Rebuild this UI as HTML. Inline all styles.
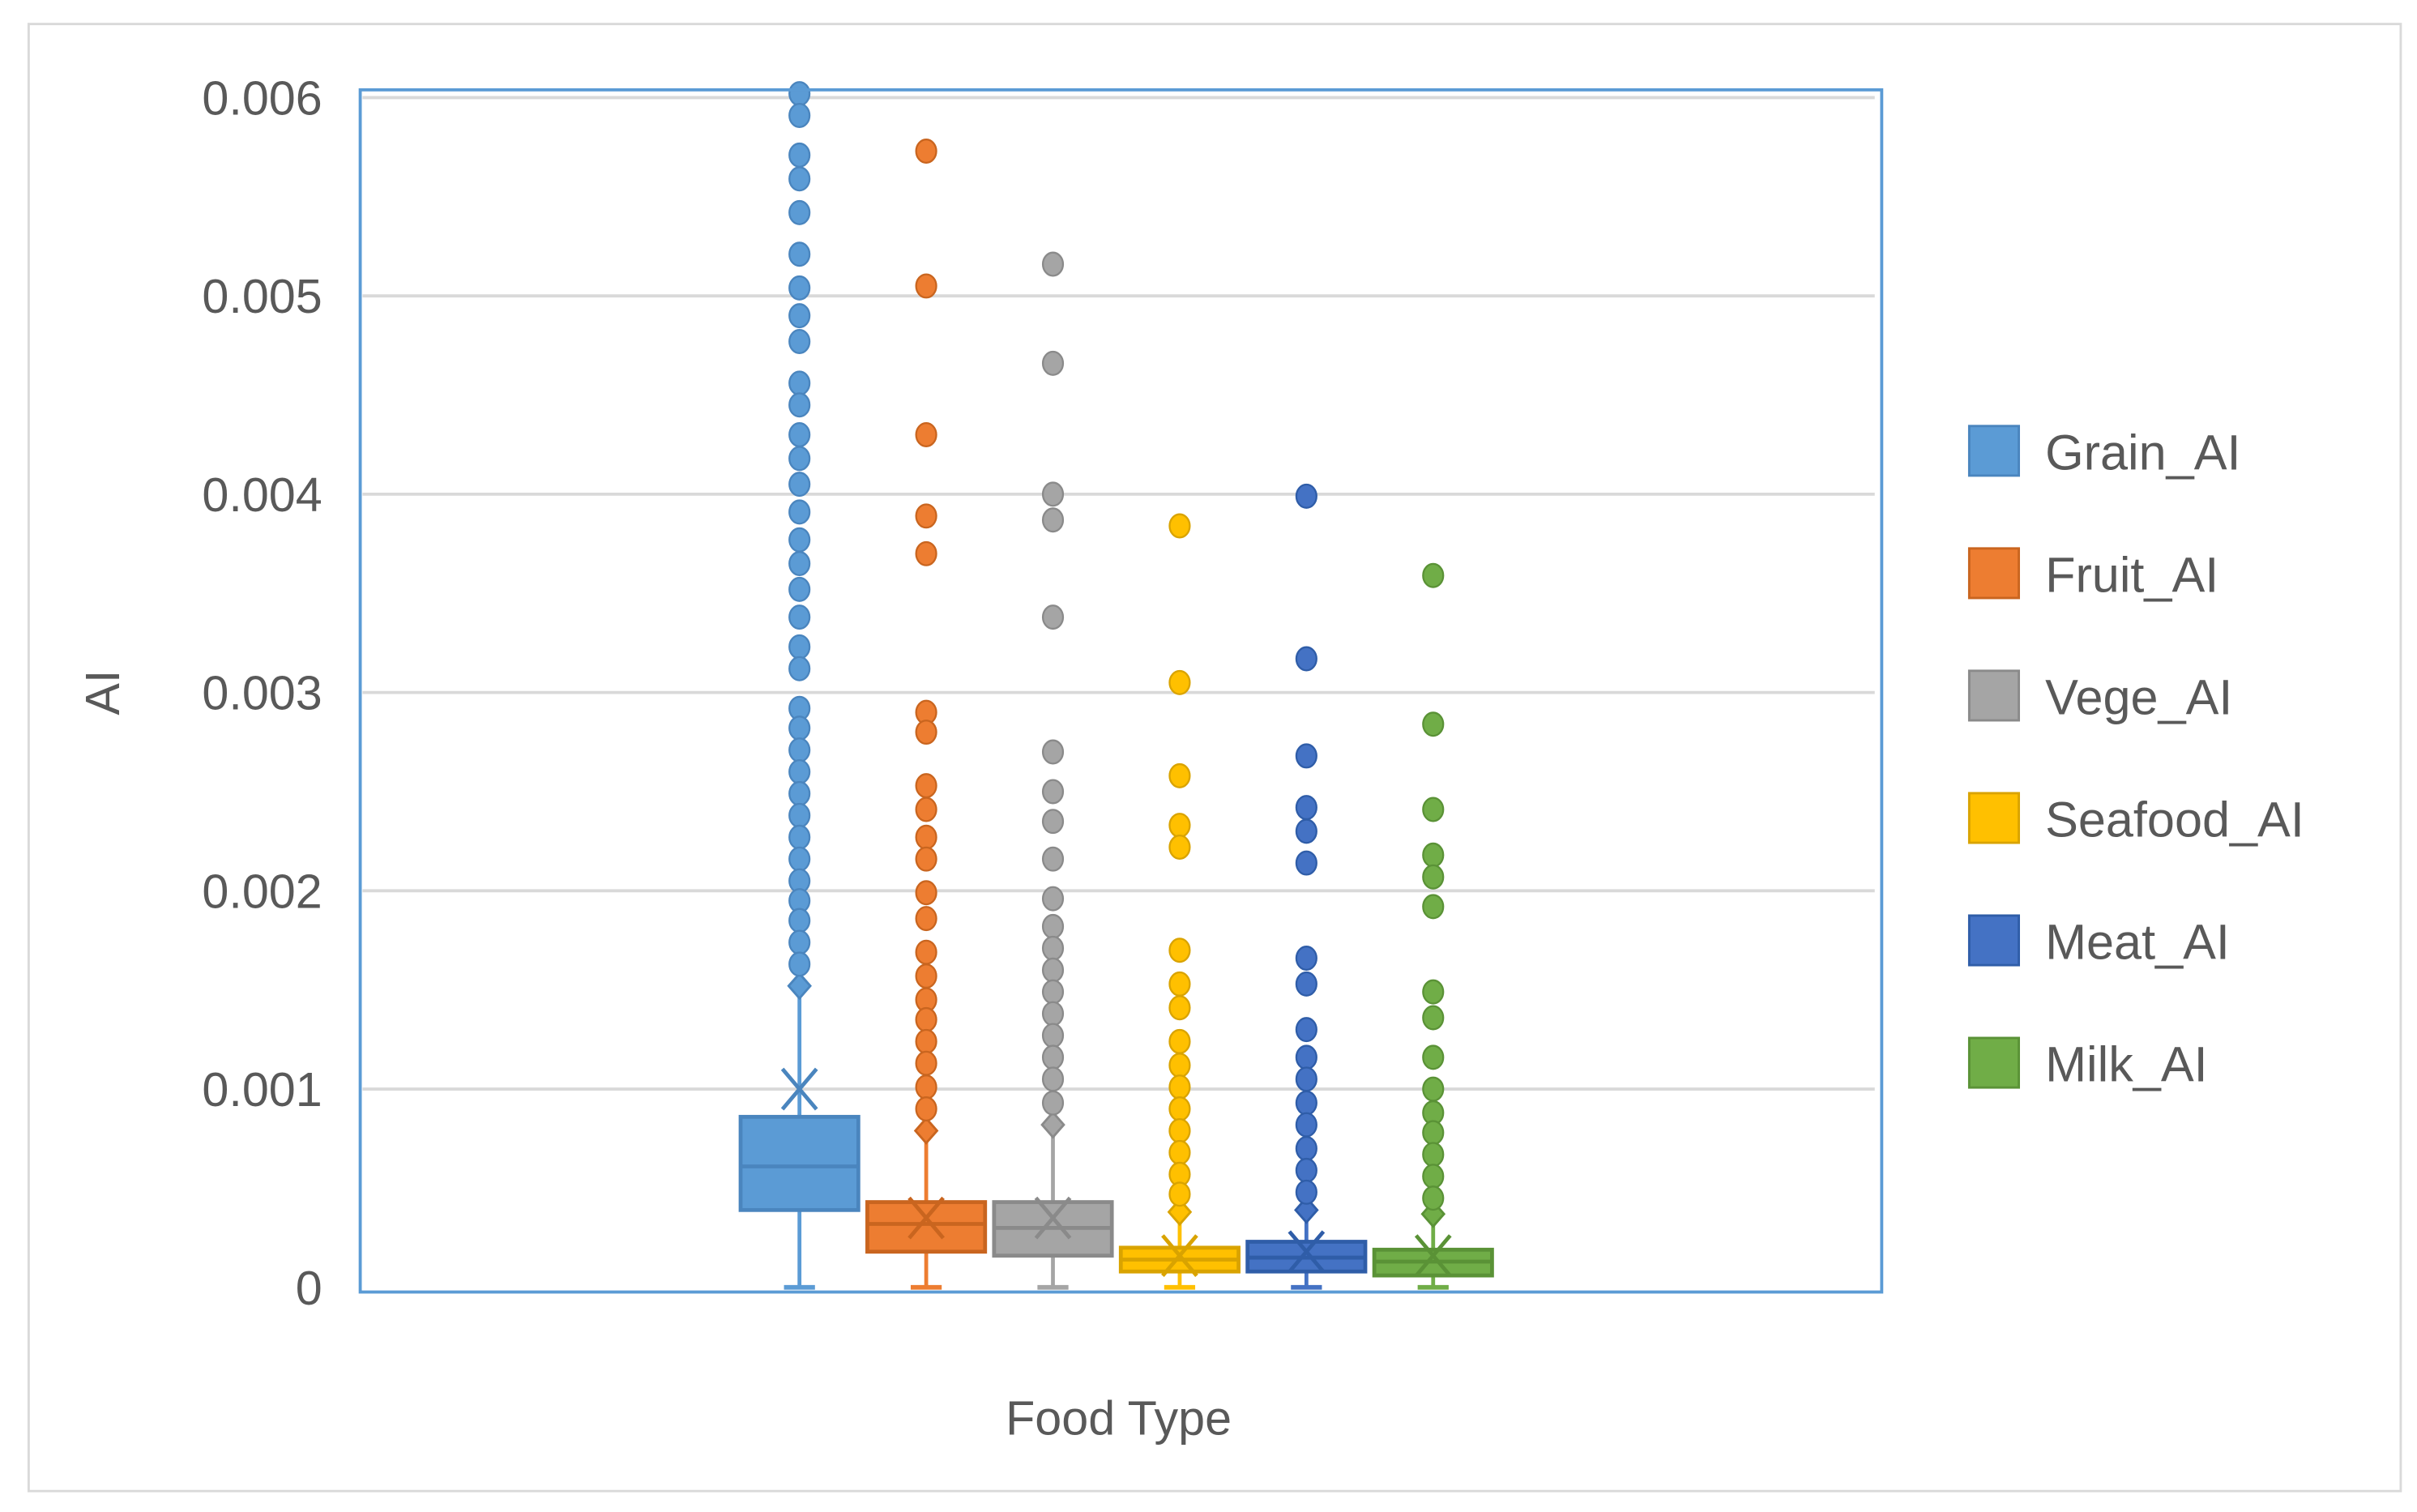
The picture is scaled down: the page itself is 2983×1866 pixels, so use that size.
<!DOCTYPE html>
<html><head><meta charset="utf-8"><style>
html,body{margin:0;padding:0;background:#fff;}
svg{display:block;font-family:"Liberation Sans",sans-serif;}
</style></head><body>
<svg id="chart" width="2983" height="1866" viewBox="0 0 1560 976" preserveAspectRatio="none" xmlns="http://www.w3.org/2000/svg">
<rect x="18.5" y="15.5" width="1531" height="947" fill="#fff" stroke="#d9d9d9" stroke-width="1.5"/>
<g id="grid"></g>
<g id="series"></g>
<rect x="232.5" y="58" width="982" height="776" fill="none" stroke="#5B9BD5" stroke-width="2"/>
<g id="yticks"></g>
<text x="0" y="0" transform="translate(77,447) rotate(-90)" text-anchor="middle" font-size="31" fill="#595959">AI</text>
<text x="722" y="926" text-anchor="middle" font-size="31" fill="#595959">Food Type</text>
<g id="legend"></g>
</svg>
<script>
const categories = ["Grain_AI","Fruit_AI","Vege_AI","Seafood_AI","Meat_AI","Milk_AI"];
const colors = ["#5B9BD5","#ED7D31","#A5A5A5","#FFC000","#4472C4","#70AD47"];
const strokes = ["#4A85BE","#C9651F","#8A8A8A","#D9A300","#2F5DA8","#5A9236"];
const mins = [0,0,0,0,0,0];
const q1s = [0.00039,0.00018,0.00016,0.00008,0.00008,0.00006];
const medians = [0.00061,0.00032,0.00030,0.00014,0.00015,0.00013];
const q3s = [0.00086,0.00043,0.00043,0.00020,0.00023,0.00019];
const means = [0.00100,0.00035,0.00035,0.00016,0.00018,0.00016];
const whiskerTops = [0.00152,0.00079,0.00082,0.00038,0.00039,0.00037];
const outliersGrain = [0.00602,0.00591,0.00571,0.00559,0.00542,0.00521,0.00504,0.0049,0.00477,0.00456,0.00445,0.0043,0.00418,0.00405,0.00391,0.00377,0.00365,0.00352,0.00338,0.00323,0.00312,0.00292,0.00282,0.00271,0.0026,0.00249,0.00238,0.00227,0.00216,0.00205,0.00195,0.00185,0.00174,0.00163];
const outliersFruit = [0.00573,0.00505,0.0043,0.00389,0.0037,0.0029,0.0028,0.00253,0.00241,0.00227,0.00216,0.00199,0.00186,0.00169,0.00157,0.00145,0.00135,0.00124,0.00113,0.00101,0.0009];
const outliersVege = [0.00516,0.00466,0.004,0.00387,0.00338,0.0027,0.0025,0.00235,0.00216,0.00196,0.00182,0.00171,0.0016,0.00149,0.00138,0.00127,0.00116,0.00105,0.00093];
const outliersSeafood = [0.00384,0.00305,0.00258,0.00233,0.00222,0.0017,0.00153,0.00141,0.00124,0.00112,0.00101,0.0009,0.00079,0.00068,0.00057,0.00047];
const outliersMeat = [0.00399,0.00317,0.00268,0.00242,0.0023,0.00214,0.00166,0.00153,0.0013,0.00116,0.00105,0.00093,0.00082,0.0007,0.00059,0.00048];
const outliersMilk = [0.00359,0.00284,0.00241,0.00218,0.00207,0.00192,0.00149,0.00136,0.00116,0.001,0.00088,0.00078,0.00067,0.00056,0.00045];
const tickValues = [0,0.001,0.002,0.003,0.004,0.005,0.006];
const tickLabels = ["0","0.001","0.002","0.003","0.004","0.005","0.006"];

const outliers = [outliersGrain,outliersFruit,outliersVege,outliersSeafood,outliersMeat,outliersMilk];
const NS="http://www.w3.org/2000/svg";
function y(v){return 831 - v/0.006*768;}
function x(i){return 516 + i*81.8;}
function mk(tag,attrs,parent){const e=document.createElementNS(NS,tag);for(const k in attrs)e.setAttribute(k,attrs[k]);parent.appendChild(e);return e;}
const grid=document.getElementById('grid'),yt=document.getElementById('yticks'),ser=document.getElementById('series'),leg=document.getElementById('legend');
tickValues.forEach((v,i)=>{
  if(v>0){const l=mk('line',{x1:234,x2:1210,y1:y(v),y2:y(v),stroke:'#d9d9d9','stroke-width':2},grid);
  
  }
  const t=mk('text',{x:208,y:y(v)+11,'text-anchor':'end','font-size':31,fill:'#595959'},yt);
  t.textContent=tickLabels[i];
  
  
});
const hw=38;
categories.forEach((c,i)=>{
  const cx=x(i),col=colors[i],sc=strokes[i];
  const g=mk('g',{},ser);
  
  
  mk('line',{x1:cx,x2:cx,y1:y(mins[i]),y2:y(whiskerTops[i]),stroke:col,'stroke-width':2.5},g);
  mk('line',{x1:cx-10,x2:cx+10,y1:y(mins[i]),y2:y(mins[i]),stroke:col,'stroke-width':3},g);
  mk('rect',{x:cx-hw,y:y(q3s[i]),width:2*hw,height:y(q1s[i])-y(q3s[i]),fill:col,stroke:sc,'stroke-width':2.5},g);
  mk('line',{x1:cx-hw,x2:cx+hw,y1:y(medians[i]),y2:y(medians[i]),stroke:sc,'stroke-width':2.5},g);
  const my=y(means[i]);
  mk('path',{d:`M${cx-11} ${my-13}L${cx+11} ${my+13}M${cx+11} ${my-13}L${cx-11} ${my+13}`,stroke:sc,'stroke-width':2.5,fill:'none'},g);
  const wy=y(whiskerTops[i]);
  mk('path',{d:`M${cx} ${wy-8}L${cx+7} ${wy}L${cx} ${wy+8}L${cx-7} ${wy}Z`,fill:col,stroke:sc,'stroke-width':1.5},g);
  outliers[i].forEach(v=>{
    const p=mk('ellipse',{cx:cx,cy:y(v),rx:6.5,ry:7.5,fill:col,stroke:sc,'stroke-width':1.2},g);
    
    
  });
  const ly=292+i*79;
  const lg=mk('g',{},leg);
  
  
  mk('rect',{x:1271,y:ly-17,width:32,height:32,fill:col,stroke:sc,'stroke-width':1.5},lg);
  const t=mk('text',{x:1320,y:ly+11,'font-size':32,fill:'#595959'},lg);
  t.textContent=c;
});
</script>
</body></html>
